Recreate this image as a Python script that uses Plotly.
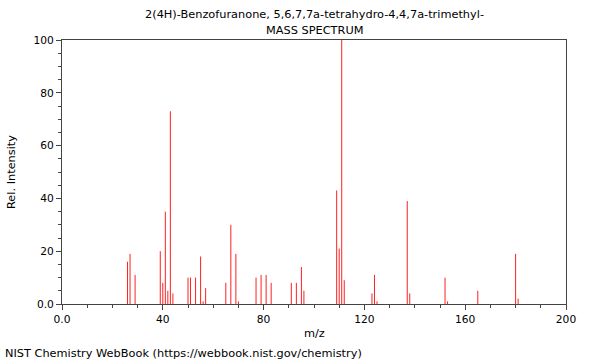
import plotly.graph_objects as go

mz = [26, 27, 29, 39, 40, 41, 42, 43, 44, 50, 51, 53, 55, 56, 57, 65, 67, 69, 70,
      77, 79, 81, 83, 91, 93, 95, 96, 109, 110, 111, 112, 123, 124, 125, 137, 138,
      152, 153, 165, 180, 181]
intensity = [16, 19, 11, 20, 8, 35, 5, 73, 4, 10, 10, 10, 18, 1, 6, 8, 30, 19, 1,
             10, 11, 11, 8, 8, 8, 14, 5, 43, 21, 100, 9, 4, 11, 1, 39, 4,
             10, 1, 5, 19, 2]

x_ticks = [0, 40, 80, 120, 160, 200]
x_labels = ["0.0", "40", "80", "120", "160", "200"]
y_ticks = [0, 20, 40, 60, 80, 100]
y_labels = ["0.0", "20", "40", "60", "80", "100"]

xs, ys = [], []
for m, v in zip(mz, intensity):
    xs += [m, m, None]
    ys += [0, v, None]

font = "DejaVu Sans, sans-serif"
txt = 11.33
fig = go.Figure()
fig.add_trace(go.Scatter(x=xs, y=ys, mode="lines",
                         line=dict(color="#ff2020", width=1),
                         hoverinfo="skip", showlegend=False))

axis_common = dict(showgrid=False, zeroline=False, showline=True, linecolor="#444",
                   linewidth=1, mirror=True, ticks="outside", ticklen=5,
                   tickcolor="#444", tickfont=dict(family=font, size=10.67, color="#000"))
fig.update_xaxes(range=[0, 200], tickvals=x_ticks, ticktext=x_labels,
                 minor=dict(dtick=10, ticks="outside", ticklen=3, tickcolor="#444"),
                 **axis_common)
fig.update_yaxes(range=[0, 100], tickvals=y_ticks, ticktext=y_labels,
                 minor=dict(dtick=5, ticks="outside", ticklen=3, tickcolor="#444"),
                 **axis_common)

fig.update_layout(
    width=600, height=360,
    margin=dict(l=62, r=34, t=40, b=56),
    paper_bgcolor="white", plot_bgcolor="white",
    font=dict(family=font, size=txt, color="#000"),
    annotations=[
        dict(text="2(4H)-Benzofuranone, 5,6,7,7a-tetrahydro-4,4,7a-trimethyl-",
             xref="paper", yref="paper", x=0.5, y=1 + 26/264, xanchor="center",
             yanchor="middle", showarrow=False, font=dict(family=font, size=txt)),
        dict(text="MASS SPECTRUM",
             xref="paper", yref="paper", x=0.5, y=1 + 10/264, xanchor="center",
             yanchor="middle", showarrow=False, font=dict(family=font, size=txt)),
        dict(text="m/z", xref="paper", yref="paper", x=0.5, y=-29/264,
             xanchor="center", yanchor="middle", showarrow=False,
             font=dict(family=font, size=txt)),
        dict(text="Rel. Intensity", xref="paper", yref="paper", x=-51/504, y=0.5,
             xanchor="center", yanchor="middle", textangle=-90, showarrow=False,
             font=dict(family=font, size=txt)),
        dict(text="NIST Chemistry WebBook (https://webbook.nist.gov/chemistry)",
             xref="paper", yref="paper", x=-59/504, y=-49/264,
             xanchor="left", yanchor="middle", showarrow=False,
             font=dict(family=font, size=txt)),
    ],
)

fig.write_html("out.html",
               config={"displayModeBar": False},
               post_script="document.body.style.margin='0';")
